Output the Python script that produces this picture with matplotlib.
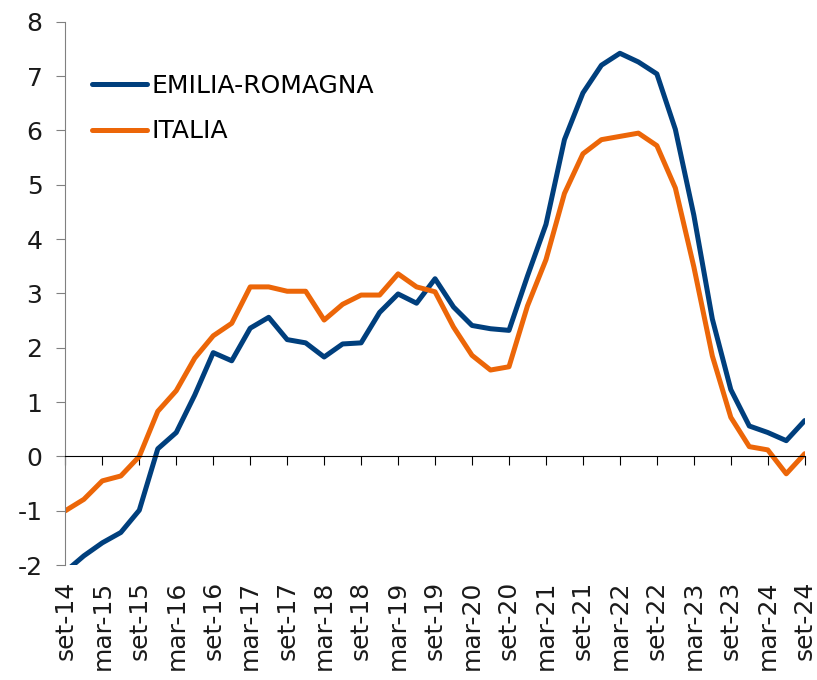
import matplotlib
matplotlib.use('Agg')
import matplotlib.pyplot as plt
import numpy as np

matplotlib.rcParams['font.family'] = 'DejaVu Sans'
matplotlib.rcParams['axes.unicode_minus'] = False

# dati trimestrali set-14 ... set-24
emilia = [-2.12, -1.83, -1.59, -1.40, -0.99, 0.14, 0.44, 1.13, 1.91, 1.76,
          2.36, 2.56, 2.15, 2.09, 1.83, 2.07, 2.09, 2.65, 2.99, 2.82,
          3.27, 2.75, 2.41, 2.35, 2.32, 3.32, 4.27, 5.83, 6.69, 7.20,
          7.42, 7.26, 7.04, 6.02, 4.44, 2.53, 1.23, 0.56, 0.44, 0.29, 0.66]
italia = [-1.00, -0.79, -0.45, -0.36, 0.00, 0.83, 1.21, 1.81, 2.22, 2.45,
          3.12, 3.12, 3.04, 3.04, 2.51, 2.80, 2.97, 2.97, 3.36, 3.12,
          3.03, 2.38, 1.86, 1.59, 1.65, 2.77, 3.62, 4.84, 5.57, 5.83,
          5.89, 5.95, 5.72, 4.94, 3.49, 1.85, 0.72, 0.18, 0.12, -0.32, 0.05]
tick_labels = ['set-14', 'mar-15', 'set-15', 'mar-16', 'set-16', 'mar-17', 'set-17',
               'mar-18', 'set-18', 'mar-19', 'set-19', 'mar-20', 'set-20', 'mar-21',
               'set-21', 'mar-22', 'set-22', 'mar-23', 'set-23', 'mar-24', 'set-24']

x = np.arange(len(emilia))

fig = plt.figure(figsize=(8.17, 6.8), dpi=100)
ax = fig.add_axes([0.08, 0.169, 0.905, 0.799])

ax.plot(x, emilia, color='#003F7D', lw=3.6, label='EMILIA-ROMAGNA', solid_capstyle='round')
ax.plot(x, italia, color='#EC6608', lw=3.6, label='ITALIA', solid_capstyle='round')

ax.set_xlim(0, len(emilia) - 1)
ax.set_ylim(-2, 8)
ax.set_yticks(range(-2, 9))

ax.spines['top'].set_visible(False)
ax.spines['right'].set_visible(False)
ax.spines['left'].set_color('#808080')
ax.spines['bottom'].set_position(('data', 0))
ax.spines['bottom'].set_color('black')

ax.set_xticks(x[::2])
ax.set_xticklabels(tick_labels, rotation=90)
ax.tick_params(axis='x', direction='out', length=6.5, color='black', pad=83,
               labelsize=18, labelcolor='#1a1a1a')
ax.tick_params(axis='y', direction='out', length=6.5, color='#808080', pad=10,
               labelsize=18, labelcolor='#1a1a1a')

ax.legend(loc='upper left', bbox_to_anchor=(0.006, 0.945), frameon=False, fontsize=18,
          handlelength=2.2, handletextpad=0.15, labelspacing=0.85)

fig.savefig('out.png', dpi=100)
